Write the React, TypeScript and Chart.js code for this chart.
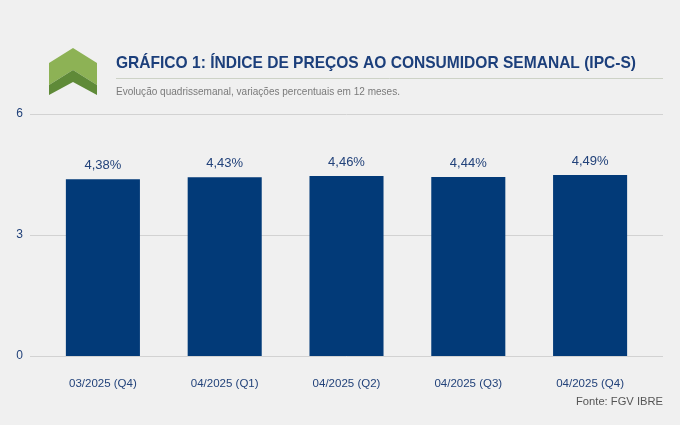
import React, { useEffect, useRef } from "react";
import { Chart, registerables } from "chart.js";

Chart.register(...registerables);

const categories = ["03/2025 (Q4)", "04/2025 (Q1)", "04/2025 (Q2)", "04/2025 (Q3)", "04/2025 (Q4)"];
const values = [4.38, 4.43, 4.46, 4.44, 4.49];
const valueLabels = ["4,38%", "4,43%", "4,46%", "4,44%", "4,49%"];
const yTicks = [0, 3, 6];
const titleText = "GRÁFICO 1: ÍNDICE DE PREÇOS AO CONSUMIDOR SEMANAL (IPC-S)";
const subtitleText = "Evolução quadrissemanal, variações percentuais em 12 meses.";
const sourceText = "Fonte: FGV IBRE";

const FONT = "Arial, 'Liberation Sans', Helvetica, sans-serif";
const BLUE_TEXT = "#22427a";

const decorPlugin = {
  id: "decor",
  beforeDraw(chart: any) {
    const ctx = chart.ctx;
    ctx.save();
    ctx.fillStyle = "#f0f0f0";
    ctx.fillRect(0, 0, chart.width, chart.height);

    // logo
    ctx.fillStyle = "#8db255";
    ctx.beginPath();
    ctx.moveTo(49, 63);
    ctx.lineTo(73, 48);
    ctx.lineTo(97, 63);
    ctx.lineTo(97, 85);
    ctx.lineTo(73, 70);
    ctx.lineTo(49, 85);
    ctx.closePath();
    ctx.fill();
    ctx.fillStyle = "#5f8a38";
    ctx.beginPath();
    ctx.moveTo(49, 85);
    ctx.lineTo(73, 70);
    ctx.lineTo(97, 85);
    ctx.lineTo(97, 95);
    ctx.lineTo(73, 82);
    ctx.lineTo(49, 95);
    ctx.closePath();
    ctx.fill();

    // title
    ctx.fillStyle = "#1c3f7b";
    ctx.font = `bold 17px ${FONT}`;
    ctx.textAlign = "left";
    ctx.textBaseline = "middle";
    ctx.fillText(titleText, 116, 63, 520);

    // rule
    ctx.strokeStyle = "#cdd2c6";
    ctx.lineWidth = 1;
    ctx.beginPath();
    ctx.moveTo(116, 78.5);
    ctx.lineTo(663, 78.5);
    ctx.stroke();

    // subtitle
    ctx.fillStyle = "#7a7a7a";
    ctx.font = `11px ${FONT}`;
    ctx.fillText(subtitleText, 116, 92, 284);

    // source
    ctx.fillStyle = "#555555";
    ctx.font = `11.5px ${FONT}`;
    ctx.textAlign = "right";
    ctx.fillText(sourceText, 663, 402, 87);

    // grid lines
    const y = chart.scales.y;
    ctx.strokeStyle = "#d2d2d2";
    ctx.lineWidth = 1;
    yTicks.forEach((v) => {
      const py = Math.round(y.getPixelForValue(v)) + 0.5;
      ctx.beginPath();
      ctx.moveTo(30, py);
      ctx.lineTo(663, py);
      ctx.stroke();
    });
    ctx.restore();
  },
  afterDatasetsDraw(chart: any) {
    const ctx = chart.ctx;
    const meta = chart.getDatasetMeta(0);
    ctx.save();
    ctx.fillStyle = BLUE_TEXT;
    ctx.font = `13px ${FONT}`;
    ctx.textAlign = "center";
    ctx.textBaseline = "bottom";
    meta.data.forEach((bar: any, i: number) => {
      ctx.fillText(valueLabels[i], bar.x, bar.y - 7);
    });
    ctx.restore();
  },
};

export default function App() {
  const ref = useRef<HTMLCanvasElement | null>(null);
  useEffect(() => {
    if (!ref.current) return;
    const chart = new Chart(ref.current, {
      type: "bar",
      data: {
        labels: categories,
        datasets: [
          {
            data: values,
            backgroundColor: "#023a78",
            borderWidth: 0,
            categoryPercentage: 1,
            barPercentage: 0.608,
          },
        ],
      },
      options: {
        animation: false,
        responsive: false,
        devicePixelRatio: 1,
        layout: { padding: { left: 0, right: 29, top: 114, bottom: 29 } },
        plugins: { legend: { display: false }, tooltip: { enabled: false }, title: { display: false } },
        scales: {
          x: {
            grid: { display: false, drawTicks: false },
            border: { display: false },
            ticks: { color: BLUE_TEXT, font: { size: 11.5, family: FONT }, padding: 21, maxRotation: 0 },
            afterFit: (s: any) => {
              s.height = 40;
            },
          },
          y: {
            min: 0,
            max: 6,
            afterBuildTicks: (s: any) => {
              s.ticks = yTicks.map((v) => ({ value: v }));
            },
            grid: { display: false, drawTicks: false },
            border: { display: false },
            ticks: { color: BLUE_TEXT, font: { size: 12, family: FONT }, padding: 19 },
            afterFit: (s: any) => {
              s.width = 42;
            },
          },
        },
      },
      plugins: [decorPlugin],
    });
    return () => chart.destroy();
  }, []);
  return (
    <div style={{ position: "fixed", left: 0, top: 0, width: 680, height: 425, background: "#f0f0f0" }}>
      <canvas ref={ref} width={680} height={425} style={{ width: 680, height: 425, display: "block" }} />
    </div>
  );
}
